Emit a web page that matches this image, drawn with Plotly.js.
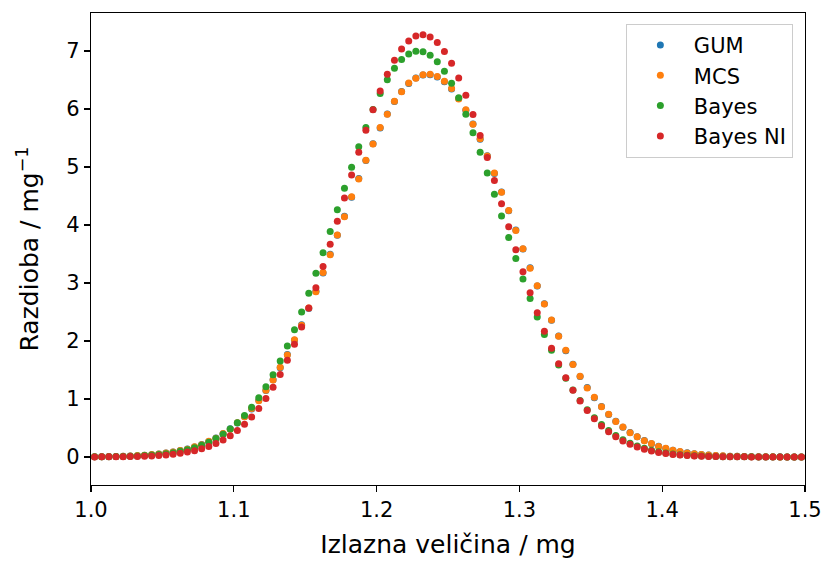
<!DOCTYPE html>
<html>
<head>
<meta charset="utf-8">
<script src="https://cdn.plot.ly/plotly-3.0.1.min.js"></script>
<style>html,body{margin:0;padding:0;background:#fff}#chart{width:826px;height:563px}</style>
</head>
<body>
<div id="chart"></div>
<script>
const xVals = [1.0025,1.0075,1.0125,1.0175,1.0225,1.0275,1.0325,1.0375,1.0425,1.0475,
1.0525,1.0575,1.0625,1.0675,1.0725,1.0775,1.0825,1.0875,1.0925,1.0975,
1.1025,1.1075,1.1125,1.1175,1.1225,1.1275,1.1325,1.1375,1.1425,1.1475,
1.1525,1.1575,1.1625,1.1675,1.1725,1.1775,1.1825,1.1875,1.1925,1.1975,
1.2025,1.2075,1.2125,1.2175,1.2225,1.2275,1.2325,1.2375,1.2425,1.2475,
1.2525,1.2575,1.2625,1.2675,1.2725,1.2775,1.2825,1.2875,1.2925,1.2975,
1.3025,1.3075,1.3125,1.3175,1.3225,1.3275,1.3325,1.3375,1.3425,1.3475,
1.3525,1.3575,1.3625,1.3675,1.3725,1.3775,1.3825,1.3875,1.3925,1.3975,
1.4025,1.4075,1.4125,1.4175,1.4225,1.4275,1.4325,1.4375,1.4425,1.4475,
1.4525,1.4575,1.4625,1.4675,1.4725,1.4775,1.4825,1.4875,1.4925,1.4975];

const gumVals = [0.004,0.005,0.007,0.010,0.013,0.018,0.023,0.031,0.040,0.052,
0.067,0.086,0.110,0.138,0.173,0.216,0.267,0.328,0.401,0.485,
0.584,0.698,0.829,0.977,1.146,1.333,1.539,1.767,2.014,2.278,
2.562,2.858,3.172,3.494,3.821,4.152,4.480,4.800,5.110,5.402,
5.672,5.915,6.127,6.302,6.439,6.534,6.585,6.591,6.552,6.470,
6.345,6.180,5.977,5.743,5.480,5.194,4.889,4.570,4.244,3.913,
3.584,3.261,2.946,2.643,2.356,2.086,1.833,1.601,1.389,1.196,
1.023,0.869,0.733,0.615,0.512,0.423,0.347,0.283,0.229,0.184,
0.147,0.117,0.092,0.072,0.056,0.043,0.033,0.025,0.019,0.014,
0.011,0.008,0.006,0.004,0.003,0.002,0.002,0.001,0.001,0.001];

const mcsVals = [0.003,0.006,0.008,0.009,0.014,0.017,0.025,0.030,0.042,0.050,
0.069,0.084,0.112,0.135,0.176,0.213,0.270,0.324,0.405,0.480,
0.590,0.692,0.835,0.970,1.152,1.326,1.546,1.760,2.021,2.270,
2.570,2.850,3.180,3.487,3.829,4.144,4.488,4.793,5.118,5.395,
5.680,5.908,6.135,6.296,6.447,6.528,6.592,6.600,6.560,6.478,
6.352,6.172,5.985,5.736,5.488,5.188,4.896,4.563,4.251,3.906,
3.591,3.254,2.953,2.637,2.362,2.080,1.839,1.596,1.394,1.191,
1.028,0.865,0.737,0.611,0.515,0.420,0.350,0.280,0.231,0.182,
0.149,0.115,0.094,0.070,0.057,0.042,0.034,0.024,0.020,0.013,
0.011,0.008,0.006,0.005,0.003,0.002,0.001,0.001,0.001,0.000];

const bayesVals = [0.003,0.004,0.005,0.007,0.010,0.013,0.018,0.024,0.033,0.043,
0.057,0.075,0.097,0.125,0.159,0.202,0.254,0.317,0.393,0.483,
0.590,0.714,0.858,1.022,1.210,1.420,1.655,1.914,2.195,2.500,
2.824,3.166,3.522,3.889,4.261,4.632,4.997,5.349,5.683,5.991,
6.268,6.506,6.702,6.852,6.950,6.997,6.989,6.928,6.815,6.652,
6.443,6.194,5.908,5.592,5.253,4.896,4.529,4.156,3.786,3.422,
3.069,2.731,2.412,2.114,1.839,1.587,1.359,1.155,0.974,0.815,
0.677,0.558,0.457,0.370,0.298,0.238,0.189,0.149,0.116,0.090,
0.069,0.053,0.040,0.030,0.022,0.017,0.012,0.009,0.006,0.005,
0.003,0.002,0.002,0.001,0.001,0.001,0.000,0.000,0.000,0.000];

const bayesNIVals = [0.001,0.002,0.003,0.004,0.005,0.007,0.010,0.014,0.019,0.026,
0.036,0.048,0.063,0.084,0.109,0.142,0.182,0.232,0.293,0.368,
0.457,0.564,0.690,0.837,1.007,1.202,1.422,1.669,1.943,2.243,
2.568,2.916,3.284,3.668,4.063,4.464,4.864,5.255,5.632,5.986,
6.310,6.598,6.841,7.035,7.174,7.257,7.280,7.242,7.146,6.993,
6.787,6.533,6.236,5.904,5.544,5.163,4.768,4.367,3.968,3.574,
3.194,2.830,2.488,2.169,1.875,1.607,1.366,1.152,0.964,0.800,
0.658,0.536,0.434,0.349,0.277,0.219,0.171,0.133,0.103,0.078,
0.059,0.045,0.033,0.025,0.018,0.013,0.009,0.007,0.005,0.003,
0.002,0.002,0.001,0.001,0.001,0.000,0.000,0.000,0.000,0.000];

const seriesNames = ["GUM", "MCS", "Bayes", "Bayes NI"];
const xTicks = [1.0, 1.1, 1.2, 1.3, 1.4, 1.5];
const xTickLabels = ["1.0", "1.1", "1.2", "1.3", "1.4", "1.5"];
const yTicks = [0, 1, 2, 3, 4, 5, 6, 7];

const colors = ["#1f77b4", "#ff7f0e", "#2ca02c", "#d62728"];
const ys = [gumVals, mcsVals, bayesVals, bayesNIVals];

const traces = seriesNames.map((n, i) => ({
  type: "scatter", mode: "markers", name: n, x: xVals, y: ys[i],
  legendgroup: "g" + i,
  marker: {color: colors[i], size: 7, line: {width: 0}},
  cliponaxis: true
}));

const font = {family: "DejaVu Sans, sans-serif", color: "#000"};
const layout = {
  width: 826, height: 563,
  margin: {l: 91, r: 21, t: 13, b: 78},
  paper_bgcolor: "#fff", plot_bgcolor: "#fff",
  font: Object.assign({size: 22}, font),
  showlegend: true,
  legend: {
    x: 0.983, y: 0.977, xanchor: "right", yanchor: "top",
    bordercolor: "#cccccc", borderwidth: 1, bgcolor: "rgba(255,255,255,0.8)",
    font: Object.assign({size: 21}, font),
    traceorder: "grouped", tracegroupgap: 0, itemwidth: 57
  },
  xaxis: {
    range: [1.0, 1.5], tickvals: xTicks, ticktext: xTickLabels,
    ticks: "outside", ticklen: 6, tickwidth: 1.2, tickcolor: "#000",
    showline: true, linecolor: "#000", linewidth: 1.2, mirror: true,
    showgrid: false, zeroline: false,
    tickfont: Object.assign({size: 21}, font),
    title: {text: "Izlazna veličina / mg", font: Object.assign({size: 25}, font), standoff: 14}
  },
  yaxis: {
    range: [-0.483, 7.655], tickvals: yTicks,
    ticks: "outside", ticklen: 6, tickwidth: 1.2, tickcolor: "#000",
    showline: true, linecolor: "#000", linewidth: 1.2, mirror: true,
    showgrid: false, zeroline: false,
    tickfont: Object.assign({size: 21}, font),
    title: {text: "Razdioba / mg<sup>−1</sup>", font: Object.assign({size: 25}, font), standoff: 20}
  }
};

Plotly.newPlot("chart", traces, layout, {staticPlot: true, displayModeBar: false});
</script>
</body>
</html>
